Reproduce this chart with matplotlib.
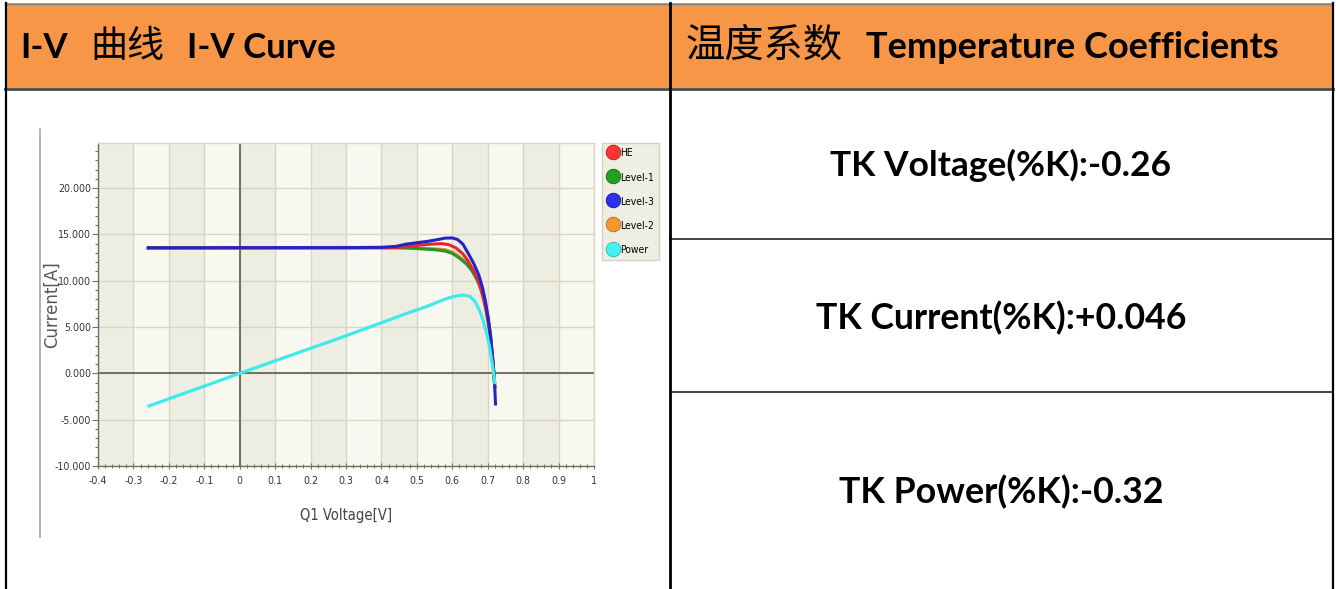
import matplotlib
matplotlib.use("Agg")
import matplotlib.pyplot as plt
from matplotlib.lines import Line2D
from matplotlib.patches import Rectangle

# ---------------- data ----------------
v_level3 = [-0.258, 0.30, 0.40, 0.44, 0.47, 0.50, 0.53, 0.56, 0.58, 0.60, 0.615, 0.63, 0.645,
            0.66, 0.675, 0.685, 0.694, 0.702, 0.708, 0.713, 0.717, 0.720, 0.722]
i_level3 = [13.55, 13.57, 13.6, 13.7, 13.95, 14.1, 14.25, 14.45, 14.6, 14.62, 14.45, 13.95, 12.95,
            11.9, 10.6, 9.3, 7.7, 5.8, 4.0, 2.0, 0.2, -1.6, -3.3]

v_he = [-0.258, 0.45, 0.48, 0.51, 0.54, 0.57, 0.59, 0.61, 0.63, 0.645, 0.66, 0.675, 0.685,
        0.694, 0.702, 0.708, 0.713, 0.717, 0.720]
i_he = [13.55, 13.6, 13.72, 13.85, 13.95, 14.0, 13.9, 13.55, 12.9, 12.1, 11.1, 9.8, 8.5,
        7.0, 5.3, 3.7, 1.9, 0.2, -1.5]

v_level1 = [-0.258, 0.45, 0.49, 0.52, 0.55, 0.58, 0.60, 0.62, 0.64, 0.655, 0.67, 0.68, 0.69,
            0.70, 0.708, 0.713, 0.717, 0.720]
i_level1 = [13.55, 13.55, 13.5, 13.42, 13.35, 13.2, 12.95, 12.45, 11.8, 11.1, 10.1, 9.2, 8.0,
            6.2, 4.0, 2.0, 0.2, -1.4]

v_level2 = [-0.258, 0.45, 0.49, 0.52, 0.55, 0.58, 0.60, 0.62, 0.64, 0.655, 0.67, 0.68, 0.69,
            0.70, 0.708, 0.713, 0.717, 0.720]
i_level2 = [13.55, 13.56, 13.55, 13.5, 13.45, 13.35, 13.1, 12.6, 11.95, 11.25, 10.2, 9.3, 8.1,
            6.3, 4.1, 2.1, 0.2, -1.4]

v_power = [-0.256, 0.0, 0.28, 0.47, 0.53, 0.56, 0.59, 0.615, 0.632, 0.65, 0.665, 0.678, 0.688,
           0.697, 0.705, 0.711, 0.716, 0.720]
p_power = [-3.52, 0.0, 3.78, 6.45, 7.25, 7.72, 8.15, 8.38, 8.45, 8.3, 7.7, 6.7, 5.6,
           4.3, 2.9, 1.5, 0.2, -1.0]

series_names = ["HE", "Level-1", "Level-3", "Level-2", "Power"]
series_colors = {"HE": "#E8262A", "Level-1": "#23962A", "Level-3": "#2424C4",
                 "Level-2": "#F08A2C", "Power": "#3FEAEA"}
legend_colors = {"HE": "#FF3535", "Level-1": "#22A022", "Level-3": "#2F2FF0",
                 "Level-2": "#F7962E", "Power": "#45F2F2"}
legend_edges = {"HE": "#B01818", "Level-1": "#146A14", "Level-3": "#1818A0",
                "Level-2": "#C06A18", "Power": "#28B8B8"}

x_ticks = [-0.4, -0.3, -0.2, -0.1, 0, 0.1, 0.2, 0.3, 0.4, 0.5, 0.6, 0.7, 0.8, 0.9, 1]
x_tick_labels = ["-0.4", "-0.3", "-0.2", "-0.1", "0", "0.1", "0.2", "0.3", "0.4", "0.5",
                 "0.6", "0.7", "0.8", "0.9", "1"]
y_ticks = [-10, -5, 0, 5, 10, 15, 20]
y_tick_labels = ["-10.000", "-5.000", "0.000", "5.000", "10.000", "15.000", "20.000"]

header_left = ["I-V", "曲线", "I-V Curve"]
header_right = ["温度系数", "Temperature Coefficients"]
tk_texts = ["TK Voltage(%K):-0.26", "TK Current(%K):+0.046", "TK Power(%K):-0.32"]

# ---------------- figure ----------------
W, H = 1336, 589
fig = plt.figure(figsize=(W / 100, H / 100), dpi=100)
fig.patch.set_facecolor("white")
renderer = fig.canvas.get_renderer()

bg = fig.add_axes([0, 0, 1, 1], zorder=0)
bg.set_xlim(0, W)
bg.set_ylim(H, 0)
bg.axis("off")

NARROW = ["DejaVu Sans"]
BOLD = ["Lato", "DejaVu Sans"]
CJK = ["Noto Sans CJK SC", "DejaVu Sans"]


def fit_text(ax, x, y, s, width, ha="left", va="center", **kw):
    t = ax.text(x, y, s, fontsize=10, ha=ha, va=va, **kw)
    bb = t.get_window_extent(renderer=renderer)
    if bb.width > 0:
        t.set_fontsize(10 * width / bb.width)
    return t


# table: header
bg.add_patch(Rectangle((5, 3), 1328, 85, facecolor="#F79646", edgecolor="none", zorder=1))
bg.plot([5, 1333], [3.5, 3.5], color="#7F7F7F", lw=1.0, zorder=2)
bg.plot([5, 1333], [88.5, 88.5], color="#4A4A4A", lw=2.0, zorder=2)
bg.plot([5.5, 5.5], [3, H], color="black", lw=1.6, zorder=3)
bg.plot([1333, 1333], [3, H], color="black", lw=1.6, zorder=3)
bg.plot([670, 670], [3, H], color="black", lw=2.0, zorder=3)
bg.plot([670, 1333], [238.5, 238.5], color="#222222", lw=1.2, zorder=2)
bg.plot([670, 1333], [391.5, 391.5], color="#222222", lw=1.2, zorder=2)

t_curve = fit_text(bg, 187, 48, header_left[2], 149, fontfamily=BOLD, fontweight="bold",
                   color="black", zorder=4)
bg.text(20, 48, header_left[0], fontsize=t_curve.get_fontsize(), ha="left", va="center",
        fontfamily=BOLD, fontweight="bold", color="black", zorder=4)
fit_text(bg, 90, 46, header_left[1], 74, fontfamily=CJK, fontweight="normal", color="black", zorder=4)
fit_text(bg, 686, 46, header_right[0], 157, fontfamily=CJK, fontweight="normal", color="black", zorder=4)
fit_text(bg, 866, 48, header_right[1], 415, fontfamily=BOLD, fontweight="bold", color="black", zorder=4)

tk_pos = [(1001, 165, 342), (1001, 318, 373), (1001, 492, 326)]
for s, (cx, cy, w) in zip(tk_texts, tk_pos):
    fit_text(bg, cx, cy, s, w, ha="center", fontfamily=BOLD, fontweight="bold", color="black", zorder=4)

# chart picture left border line
bg.plot([40, 40], [129, 537], color="#A8A890", lw=1.2, zorder=2)

# ---------------- chart ----------------
L, R, T, B = 98, 594, 142.7, 466
ax = fig.add_axes([L / W, 1 - B / H, (R - L) / W, (B - T) / H], zorder=5)
ax.set_xlim(-0.4, 1.0)
ax.set_ylim(-10, 24.9)

# alternating background bands
for k in range(14):
    x0 = -0.4 + 0.1 * k
    col = "#EEEDE1" if k % 2 == 0 else "#F8F8F1"
    ax.axvspan(x0, x0 + 0.1, color=col, lw=0, zorder=0)

tick_font = {"family": NARROW, "size": 7.6, "stretch": "condensed"}
ax.set_xticks(x_ticks)
ax.set_xticklabels(x_tick_labels, fontdict=tick_font, color="#333333")
ax.set_yticks(y_ticks)
ax.set_yticklabels(y_tick_labels, fontdict=tick_font, color="#333333")
ax.set_xticks([x / 100 for x in range(-40, 101, 2)], minor=True)
ax.set_yticks(list(range(-10, 25)), minor=True)
ax.tick_params(axis="both", which="major", length=4, width=0.8, color="#707060")
ax.tick_params(axis="y", which="major", pad=1.0)
ax.tick_params(axis="x", which="major", pad=5)
ax.tick_params(axis="both", which="minor", length=2.5, width=0.8, color="#707060")
ax.tick_params(axis="x", which="both", direction="inout")

ax.grid(True, which="major", color="#D6D6C6", lw=1.0, zorder=1)
ax.axvline(0, color="#707060", lw=1.4, zorder=2)
ax.axhline(0, color="#707060", lw=1.4, zorder=2)

for side in ("top", "right"):
    ax.spines[side].set_color("#D6D6C6")
    ax.spines[side].set_linewidth(1.0)
for side in ("left", "bottom"):
    ax.spines[side].set_color("#707060")
    ax.spines[side].set_linewidth(1.0)

ax.plot(v_level2, i_level2, color=series_colors["Level-2"], lw=2.2, zorder=3)
ax.plot(v_level1, i_level1, color=series_colors["Level-1"], lw=2.2, zorder=4)
ax.plot(v_he, i_he, color=series_colors["HE"], lw=2.2, zorder=5)
ax.plot(v_level3, i_level3, color=series_colors["Level-3"], lw=2.2, zorder=6)
ax.plot(v_power, p_power, color=series_colors["Power"], lw=2.3, zorder=7)

handles = []
for n in series_names:
    c = legend_colors[n]
    handles.append(Line2D([0], [0], color=legend_edges[n], lw=1.6, marker="o", markersize=10.5,
                          markerfacecolor=c, markeredgecolor=legend_edges[n], markeredgewidth=0.6))
leg = ax.legend(handles, series_names, loc="upper left", bbox_to_anchor=(1.017, 1.0),
                frameon=True, fancybox=False, framealpha=1, facecolor="#EEEEE4",
                edgecolor="#D2D2C2", prop={"family": NARROW, "size": 7.5, "stretch": "condensed"},
                handlelength=0.95, handleheight=1.1, handletextpad=0.25, labelspacing=1.3,
                borderpad=0.5, borderaxespad=0)

ax.text(-0.093, 0.5, "Current[A]", transform=ax.transAxes, rotation=90,
        ha="center", va="center", fontsize=12, color="#555555", fontfamily="DejaVu Sans")
ax.text(0.5, -0.152, "Q1 Voltage[V]", transform=ax.transAxes, ha="center", va="center",
        fontsize=10.5, color="#444444", fontfamily=NARROW, fontstretch="condensed")

fig.savefig("out.png", dpi=100, facecolor="white")
